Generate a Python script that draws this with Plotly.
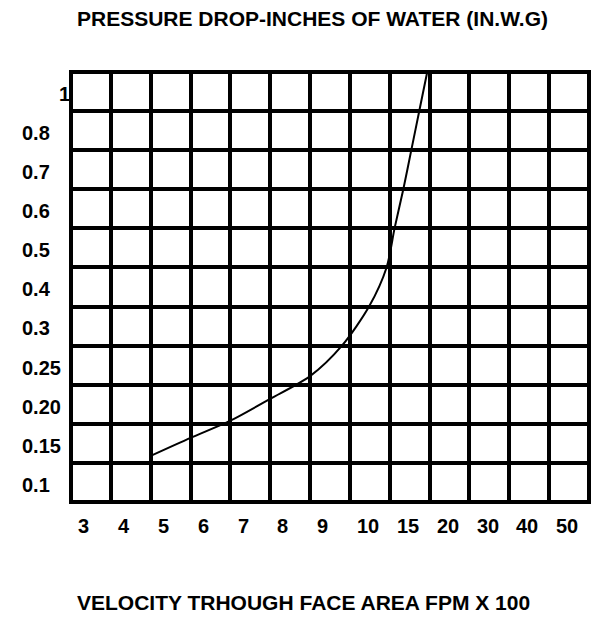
import numpy as np
import plotly.graph_objects as go

# Axis labelling of the chart
velocity_labels = ["3", "4", "5", "6", "7", "8", "9", "10", "15", "20", "30", "40", "50"]
velocity_values = [3, 4, 5, 6, 7, 8, 9, 10, 15, 20, 30, 40, 50]
pressure_labels = ["0.1", "0.15", "0.20", "0.25", "0.3", "0.4", "0.5", "0.6", "0.7", "0.8", "1"]
pressure_values = [0.1, 0.15, 0.2, 0.25, 0.3, 0.4, 0.5, 0.6, 0.7, 0.8, 1.0]

# Pressure drop curve (velocity in FPM x 100, pressure in in. w.g.)
curve_velocity = [5.0, 6.0, 7.0, 8.0, 9.0, 9.8, 12.4, 14.6, 15.6, 16.7, 17.7, 18.7, 19.7]
curve_pressure = [0.134, 0.157, 0.179, 0.207, 0.236, 0.275, 0.35, 0.45, 0.55, 0.65, 0.75, 0.9, 1.1]

W, H = 592, 618
ML, MR, MT, MB = 69, 1, 70, 114
PW, PH = W - ML - MR, H - MT - MB

FONT = dict(family="Arial, Liberation Sans, sans-serif", size=20, color="black", weight="bold")
TITLE_FONT = dict(FONT, size=21)


def to_grid(vals, ticks, offset):
    """Piecewise-linear map from axis values to grid positions (linear beyond the ends)."""
    ticks = np.asarray(ticks, float)
    pos = np.arange(len(ticks)) + offset
    vals = np.asarray(vals, float)
    out = np.interp(vals, ticks, pos)
    hi = vals > ticks[-1]
    slope = (pos[-1] - pos[-2]) / (ticks[-1] - ticks[-2])
    out[hi] = pos[-1] + (vals[hi] - ticks[-1]) * slope
    lo = vals < ticks[0]
    slope0 = (pos[1] - pos[0]) / (ticks[1] - ticks[0])
    out[lo] = pos[0] + (vals[lo] - ticks[0]) * slope0
    return out


def px_x(p):
    return (p - ML) / PW


def px_y(p):
    return (MT + PH - p) / PH


n_cols = len(velocity_labels)
n_rows = len(pressure_labels)

fig = go.Figure()
fig.add_trace(go.Scatter(
    x=to_grid(curve_velocity, velocity_values, 0.0),
    y=to_grid(curve_pressure, pressure_values, 0.5),
    mode="lines",
    line=dict(color="black", width=2, shape="spline", smoothing=0.8),
    hoverinfo="skip",
    showlegend=False,
))

annotations = []
# velocity labels sit just right of each vertical grid line
for i, lab in enumerate(velocity_labels):
    annotations.append(dict(
        x=i + 0.13, xref="x", y=px_y(526), yref="paper",
        text=lab, showarrow=False, xanchor="left", yanchor="middle", font=FONT,
    ))
# pressure labels sit in the middle of each row
for k, lab in enumerate(pressure_labels):
    xpos = 57 if lab == "1" else 20
    annotations.append(dict(
        x=px_x(xpos), xref="paper", y=k + 0.44, yref="y",
        text=lab, showarrow=False, xanchor="left", yanchor="middle", font=FONT,
    ))
annotations.append(dict(
    x=px_x(312), xref="paper", y=px_y(18.5), yref="paper",
    text="PRESSURE DROP-INCHES OF WATER (IN.W.G)", showarrow=False,
    xanchor="center", yanchor="middle", font=TITLE_FONT,
))
annotations.append(dict(
    x=px_x(303.5), xref="paper", y=px_y(602.5), yref="paper",
    text="VELOCITY TRHOUGH FACE AREA FPM X 100", showarrow=False,
    xanchor="center", yanchor="middle", font=TITLE_FONT,
))

grid_axis = dict(
    showticklabels=False, ticks="", showgrid=True, gridcolor="black", gridwidth=4,
    zeroline=False, showline=False, fixedrange=True,
)
fig.update_layout(
    width=W, height=H, autosize=False,
    margin=dict(l=ML, r=MR, t=MT, b=MB, pad=0),
    paper_bgcolor="white", plot_bgcolor="white",
    xaxis=dict(range=[-0.05, n_cols + 0.05], tickvals=list(range(n_cols + 1)), **grid_axis),
    yaxis=dict(range=[-0.05, n_rows + 0.05], tickvals=list(range(n_rows + 1)), **grid_axis),
    annotations=annotations,
    showlegend=False,
)

fig.write_html("out.html")
